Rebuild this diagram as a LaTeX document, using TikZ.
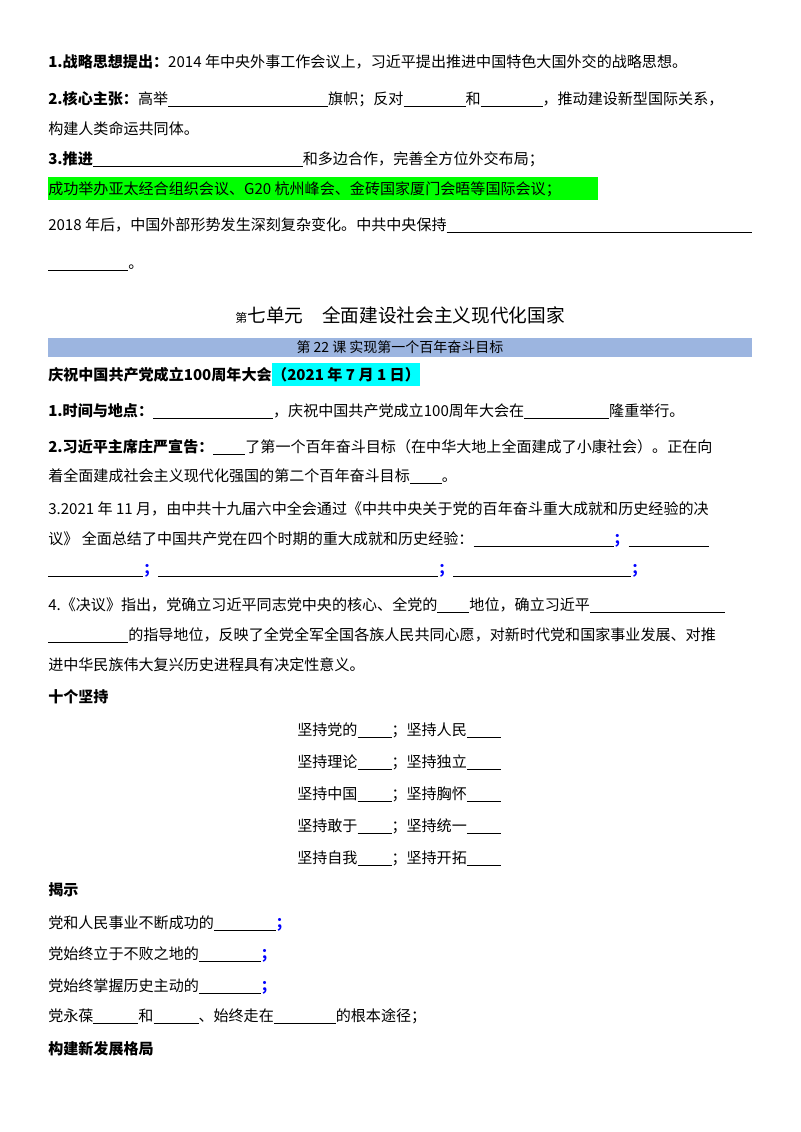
\documentclass[tikz,border=0pt]{standalone}
\usepackage{fontspec}
\setmainfont{Noto Sans CJK SC}
\newcommand\bl[1]{\underline{\hspace{#1\dimexpr0.75pt\relax}}}
\newcommand\bs{\textcolor{blue}{\textbf{；}}}
\definecolor{barblue}{HTML}{9CB5E0}
\definecolor{aqua}{HTML}{00FFFF}
\begin{document}
\begin{tikzpicture}[x=0.75pt,y=-0.75pt,
  ln/.style={anchor=base west,inner sep=0pt,font=\fontsize{11.3}{13}\selectfont}]
\useasboundingbox (0,0) rectangle (800,1132);
\fill[white] (0,0) rectangle (800,1132);
\fill[green] (48,177) rectangle (598,200);
\fill[barblue] (48,338) rectangle (752,357);
\node[ln] (l1) at (48,67) {\textbf{1.战略思想提出：}2014 年中央外事工作会议上，习近平提出推进中国特色大国外交的战略思想。};
\node[ln] (l2) at (48,104) {\textbf{2.核心主张：}高举\bl{160}旗帜；反对\bl{62}和\bl{62}，推动建设新型国际关系，};
\node[ln] (l3) at (48,134) {构建人类命运共同体。};
\node[ln] (l4) at (48,164) {\textbf{3.推进}\bl{210}和多边合作，完善全方位外交布局；};
\node[ln] (l5) at (48,194) {成功举办亚太经合组织会议、G20 杭州峰会、金砖国家厦门会晤等国际会议；};
\node[ln] (l6) at (48,230) {2018 年后，中国外部形势发生深刻复杂变化。中共中央保持\bl{305}};
\node[ln] (l7) at (48,268) {\bl{80}。};
\node[anchor=base,inner sep=0pt,font=\fontsize{14}{16}\selectfont] (t) at (400,322) {{\small 第}七单元\quad 全面建设社会主义现代化国家};
\node[anchor=base,inner sep=0pt,font=\fontsize{10.5}{12}\selectfont] (bar) at (400,352) {第 22 课\ 实现第一个百年奋斗目标};
\node[ln] (c0) at (48,380) {\textbf{庆祝中国共产党成立100周年大会}};
\node[ln,fill=aqua,inner ysep=3pt,inner xsep=0pt] (c0b) at (c0.base east) {\textbf{（2021 年 7 月 1 日）}};
\node[ln] (c1) at (48,416) {\textbf{1.时间与地点：}\bl{120}，庆祝中国共产党成立100周年大会在\bl{85}隆重举行。};
\node[ln] (c2) at (48,452) {\textbf{2.习近平主席庄严宣告：}\bl{32}了第一个百年奋斗目标（在中华大地上全面建成了小康社会）。正在向};
\node[ln] (c3) at (48,481) {着全面建成社会主义现代化强国的第二个百年奋斗目标\bl{32}。};
\node[ln] (c4) at (48,514) {3.2021 年 11 月，由中共十九届六中全会通过《中共中央关于党的百年奋斗重大成就和历史经验的决};
\node[ln] (c5) at (48,544) {议》 全面总结了中国共产党在四个时期的重大成就和历史经验：\bl{140}\bs\bl{80}};
\node[ln] (c6) at (48,574) {\bl{95}\bs\bl{280}\bs\bl{178}\bs};
\node[ln] (c7) at (48,610) {4.《决议》指出，党确立习近平同志党中央的核心、全党的\bl{32}地位，确立习近平\bl{135}};
\node[ln] (c8) at (48,640) {\bl{80}的指导地位，反映了全党全军全国各族人民共同心愿，对新时代党和国家事业发展、对推};
\node[ln] (c9) at (48,670) {进中华民族伟大复兴历史进程具有决定性意义。};
\node[ln] (s0) at (48,702) {\textbf{十个坚持}};
\node[ln] (s1) at (297,735) {坚持党的\bl{34}；坚持人民\bl{34}};
\node[ln] (s2) at (297,767) {坚持理论\bl{34}；坚持独立\bl{34}};
\node[ln] (s3) at (297,799) {坚持中国\bl{34}；坚持胸怀\bl{34}};
\node[ln] (s4) at (297,831) {坚持敢于\bl{34}；坚持统一\bl{34}};
\node[ln] (s5) at (297,863) {坚持自我\bl{34}；坚持开拓\bl{34}};
\node[ln] (r0) at (48,895) {\textbf{揭示}};
\node[ln] (r1) at (48,928) {党和人民事业不断成功的\bl{62}\bs};
\node[ln] (r2) at (48,959) {党始终立于不败之地的\bl{62}\bs};
\node[ln] (r3) at (48,991) {党始终掌握历史主动的\bl{62}\bs};
\node[ln] (r4) at (48,1021) {党永葆\bl{45}和\bl{45}、始终走在\bl{62}的根本途径；};
\node[ln] (r5) at (48,1054) {\textbf{构建新发展格局}};
\end{tikzpicture}
\end{document}
